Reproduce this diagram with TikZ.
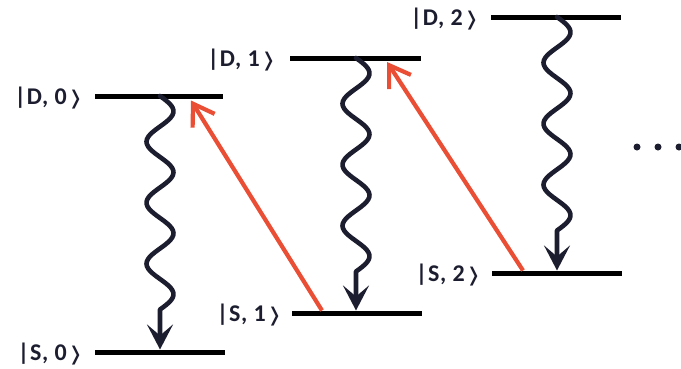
\documentclass[tikz,border=0pt]{standalone}
\usepackage{fontspec}
\setmainfont{Carlito}
\newfontfamily\bracketfont{DejaVu Sans}
\usetikzlibrary{arrows.meta}
\definecolor{ink}{RGB}{28,30,48}
\definecolor{pump}{RGB}{234,78,52}
\newcommand{\ketr}{\hspace{1pt}{\bracketfont\bfseries\fontsize{19}{19}\selectfont ❭}}
\begin{document}
\begin{tikzpicture}[x=1pt,y=-1pt,
  level/.style={fill=black,draw=none,inner sep=0pt,minimum height=5pt,minimum width=#1,rectangle},
  lab/.style={text=ink,font=\fontsize{24}{24}\selectfont\bfseries\addfontfeature{LetterSpace=3},anchor=east,inner sep=0pt},
  wavy/.style={draw=ink,line width=4.6pt,line cap=round,line join=round,-{Stealth[length=25pt,width=26pt,inset=11pt]}},
  pumparrow/.style={draw=pump,line width=4.2pt,-{Straight Barb[length=20pt,width=26pt]}},
  dot/.style={circle,fill=ink,inner sep=0pt,minimum size=7pt}]
\useasboundingbox (0,0) rectangle (681,368);
% levels
\node[level=128pt] (D0) at (159,96) {};
\node[level=130pt] (S0) at (160,352) {};
\node[level=131pt] (D1) at (355.5,58) {};
\node[level=130pt] (S1) at (357,313) {};
\node[level=130pt] (D2) at (556,17) {};
\node[level=130pt] (S2) at (557,273) {};
% labels
\node[lab] (lD0) at ([xshift=-11pt,yshift=-2pt]D0.west) {|D, 0\ketr};
\node[lab] (lS0) at ([xshift=-11pt,yshift=-2pt]S0.west) {|S, 0\ketr};
\node[lab] (lD1) at ([xshift=-13pt,yshift=-2pt]D1.west) {|D, 1\ketr};
\node[lab] (lS1) at ([xshift=-9pt,yshift=-2pt]S1.west) {|S, 1\ketr};
\node[lab] (lD2) at ([xshift=-11pt,yshift=-2pt]D2.west) {|D, 2\ketr};
\node[lab] (lS2) at ([xshift=-10pt,yshift=-2pt]S2.west) {|S, 2\ketr};
% wavy decays
\coordinate (w0a) at (160,96);   \coordinate (w0b) at (160,349.5);
\coordinate (w1a) at (356,58);   \coordinate (w1b) at (356,310.5);
\coordinate (w2a) at (557,17);   \coordinate (w2b) at (557,270.5);
\foreach \a/\b in {w0a/w0b,w1a/w1b,w2a/w2b}{
  \begin{scope}[shift={(\a)}]
    \draw[wavy] plot[domain=0:213.5,samples=90,smooth] ({13.5*sin(5.9016*\x)},\x) -- (\b);
  \end{scope}
}
% pump arrows
\coordinate (r1a) at (322,310.5); \coordinate (r1b) at (191,100.5);
\coordinate (r2a) at (523,270.5); \coordinate (r2b) at (387,62);
\draw[pumparrow] (r1a) -- (r1b);
\draw[pumparrow] (r2a) -- (r2b);
% dots
\node[dot] (p1) at (637,147) {};
\node[dot] (p2) at (658,147) {};
\node[dot] (p3) at (679,147) {};
\end{tikzpicture}
\end{document}
